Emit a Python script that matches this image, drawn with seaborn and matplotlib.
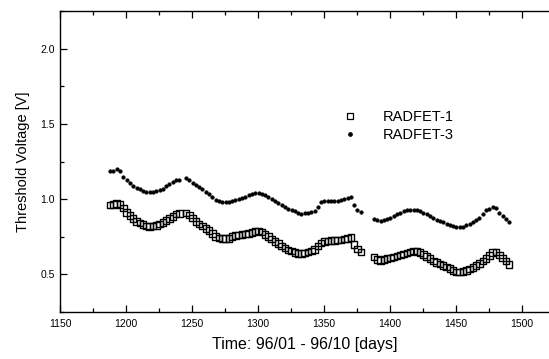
import numpy as np
import pandas as pd
import matplotlib
matplotlib.use("Agg")
import matplotlib.pyplot as plt
from matplotlib.lines import Line2D
from matplotlib.ticker import MultipleLocator
import seaborn as sns

sns.set_theme(style="ticks")
plt.rcParams['font.family'] = ['Liberation Sans', 'DejaVu Sans']
plt.rcParams['text.color'] = 'black'
plt.rcParams['axes.labelcolor'] = 'black'
plt.rcParams['xtick.color'] = 'black'
plt.rcParams['ytick.color'] = 'black'

days_a = [1188.0, 1190.5, 1193.0, 1195.5, 1198.0, 1200.5, 1203.0, 1205.5, 1208.0, 1210.5, 1213.0,
          1215.5, 1218.0, 1220.5, 1223.0, 1225.5, 1228.0, 1230.5, 1233.0, 1235.5, 1238.0, 1240.5]
days_b = [1245.5, 1248.0, 1250.5, 1253.0, 1255.5, 1258.0, 1260.5, 1263.0, 1265.5, 1268.0, 1270.5,
          1273.0, 1275.5, 1278.0, 1280.5, 1283.0, 1285.5, 1288.0, 1290.5, 1293.0, 1295.5, 1298.0,
          1300.5, 1303.0, 1305.5, 1308.0, 1310.5, 1313.0, 1315.5, 1318.0, 1320.5, 1323.0, 1325.5,
          1328.0, 1330.5, 1333.0, 1335.5, 1338.0, 1340.5, 1343.0, 1345.5, 1348.0, 1350.5, 1353.0,
          1355.5, 1358.0, 1360.5, 1363.0, 1365.5, 1368.0, 1370.5, 1373.0, 1375.5, 1378.0]
days_c = [1388.0, 1390.5, 1393.0, 1395.5, 1398.0, 1400.5, 1403.0, 1405.5, 1408.0, 1410.5, 1413.0,
          1415.5, 1418.0, 1420.5, 1423.0, 1425.5, 1428.0, 1430.5, 1433.0, 1435.5, 1438.0, 1440.5,
          1443.0, 1445.5, 1448.0, 1450.5, 1453.0, 1455.5, 1458.0, 1460.5, 1463.0, 1465.5, 1468.0,
          1470.5, 1473.0, 1475.5, 1478.0, 1480.5, 1483.0, 1485.5, 1488.0, 1490.5]

radfet1_a = [0.96, 0.965, 0.97, 0.965, 0.94, 0.91, 0.89, 0.87, 0.85, 0.84, 0.83,
             0.82, 0.818, 0.82, 0.826, 0.835, 0.845, 0.857, 0.87, 0.885, 0.90, 0.905]
radfet1_b = [0.907, 0.895, 0.875, 0.85, 0.835, 0.82, 0.805, 0.79, 0.77, 0.75, 0.742,
             0.738, 0.737, 0.74, 0.75, 0.757, 0.762, 0.765, 0.768, 0.772, 0.778, 0.784,
             0.787, 0.78, 0.765, 0.75, 0.735, 0.72, 0.705, 0.69, 0.675, 0.662, 0.655,
             0.645, 0.64, 0.64, 0.642, 0.648, 0.655, 0.665, 0.69, 0.71, 0.718, 0.722,
             0.724, 0.726, 0.728, 0.73, 0.735, 0.74, 0.745, 0.70, 0.67, 0.648]
radfet1_c = [0.615, 0.60, 0.593, 0.60, 0.605, 0.61, 0.615, 0.622, 0.63, 0.635, 0.642,
             0.65, 0.655, 0.652, 0.645, 0.633, 0.62, 0.605, 0.59, 0.58, 0.57, 0.56,
             0.55, 0.54, 0.525, 0.517, 0.515, 0.518, 0.525, 0.535, 0.545, 0.558, 0.572,
             0.59, 0.605, 0.625, 0.645, 0.65, 0.63, 0.61, 0.59, 0.565]

radfet3_a = [1.186, 1.19, 1.20, 1.19, 1.15, 1.125, 1.105, 1.09, 1.075, 1.065, 1.057,
             1.05, 1.047, 1.048, 1.052, 1.058, 1.07, 1.085, 1.10, 1.112, 1.125, 1.13]
radfet3_b = [1.14, 1.125, 1.11, 1.095, 1.08, 1.065, 1.05, 1.035, 1.015, 0.995, 0.985,
             0.982, 0.98, 0.982, 0.987, 0.992, 0.998, 1.005, 1.015, 1.025, 1.035, 1.04,
             1.042, 1.036, 1.025, 1.012, 1.0, 0.99, 0.975, 0.962, 0.95, 0.937, 0.928,
             0.92, 0.91, 0.903, 0.905, 0.91, 0.912, 0.92, 0.95, 0.98, 0.99, 0.99,
             0.985, 0.985, 0.99, 0.995, 1.0, 1.005, 1.012, 0.96, 0.93, 0.914]
radfet3_c = [0.87, 0.862, 0.855, 0.862, 0.868, 0.872, 0.885, 0.898, 0.91, 0.918, 0.925,
             0.928, 0.93, 0.925, 0.918, 0.91, 0.90, 0.888, 0.875, 0.862, 0.852, 0.845,
             0.838, 0.83, 0.822, 0.818, 0.815, 0.818, 0.825, 0.835, 0.845, 0.858, 0.875,
             0.90, 0.925, 0.935, 0.945, 0.94, 0.91, 0.89, 0.87, 0.85]

series_names = ["RADFET-1", "RADFET-3"]
x_ticks = [1150, 1200, 1250, 1300, 1350, 1400, 1450, 1500]
y_ticks = [0.5, 1.0, 1.5, 2.0]

days = days_a + days_b + days_c
df1 = pd.DataFrame({"day": days, "V": radfet1_a + radfet1_b + radfet1_c})
df3 = pd.DataFrame({"day": days, "V": radfet3_a + radfet3_b + radfet3_c})

fig = plt.figure(figsize=(5.49, 3.59), dpi=100)
ax = fig.add_axes([60/549, 47/359, 489/549, 301/359])

sns.scatterplot(data=df1, x="day", y="V", ax=ax, marker="s", s=22,
                facecolor="none", edgecolor="black", linewidth=1.0, legend=False, zorder=3)
sns.scatterplot(data=df3, x="day", y="V", ax=ax, marker="o", s=7,
                color="black", edgecolor="black", linewidth=0.3, legend=False, zorder=3)

ax.set_xlim(1150, 1520.7)
ax.set_ylim(0.25, 2.25)
ax.set_xticks(x_ticks)
ax.set_yticks(y_ticks)
ax.xaxis.set_minor_locator(MultipleLocator(25))
ax.yaxis.set_minor_locator(MultipleLocator(0.25))
ax.tick_params(which="both", direction="in", top=True, right=False, colors="black",
               labelcolor="black", labelsize=7.5, width=0.9)
ax.tick_params(which="major", length=5)
ax.tick_params(which="minor", length=3)
ax.tick_params(axis="x", pad=5)
ax.spines["right"].set_visible(False)
for s in ["left", "bottom", "top"]:
    ax.spines[s].set_linewidth(1.0)
    ax.spines[s].set_color("black")

ax.set_xlabel("Time: 96/01 - 96/10 [days]", fontsize=11.5, labelpad=6, color="black")
ax.set_ylabel("Threshold Voltage [V]", fontsize=10.5, labelpad=8, color="black")

handles = [
    Line2D([], [], linestyle="none", marker="s", markersize=4, markerfacecolor="none",
           markeredgecolor="black", markeredgewidth=0.9),
    Line2D([], [], linestyle="none", marker="o", markersize=2.4, markerfacecolor="black",
           markeredgecolor="black"),
]
leg = ax.legend(handles, series_names, loc="upper left", bbox_to_anchor=(330/549, 1 - 104/359),
                bbox_transform=fig.transFigure, frameon=False, fontsize=10.5,
                handletextpad=1.2, labelspacing=0.3, borderaxespad=0)
for t in leg.get_texts():
    t.set_color("black")

fig.savefig("out.png", dpi=100)
